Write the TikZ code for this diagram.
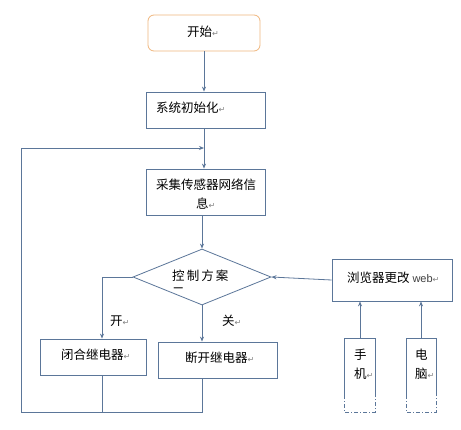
\documentclass[tikz,border=0pt]{standalone}
\usepackage{fontspec}
\newfontfamily\cjk{Noto Sans CJK SC}
\newfontfamily\symf{DejaVu Sans}
\usetikzlibrary{arrows.meta,shapes.geometric}
\definecolor{ln}{HTML}{5B7699}
\definecolor{og}{HTML}{F0B77E}
\newcommand{\ret}{{\symf\fontsize{8}{8}\selectfont\color{gray}↵}}
\tikzset{
  x=1pt,y=-1pt,
  box/.style={draw=ln,line width=0.8pt,fill=white,inner sep=0pt},
  conn/.style={draw=ln,line width=0.8pt},
  arr/.style={conn,-{Stealth[length=5pt,width=4pt]}},
  txt/.style={font=\cjk\fontsize{12.5}{18}\selectfont,inner sep=0pt,anchor=west},
}
\begin{document}
\begin{tikzpicture}
\useasboundingbox[fill=white] (0,0) rectangle (461,429);
% nodes
\node[box,draw=og,rounded corners=6pt,minimum width=112pt,minimum height=36pt] (start) at (204,33) {};
\node[txt] (startt) at (187,32) {开始\ret};
\node[box,minimum width=119pt,minimum height=36pt] (init) at (205.5,110) {};
\node[txt] (initt) at (156,108) {系统初始化\ret};
\node[box,minimum width=119pt,minimum height=46pt] (coll) at (205.5,192) {};
\node[txt] (collt1) at (156,185) {采集传感器网络信};
\node[txt] (collt2) at (196,204) {息\ret};
\node[box,diamond,aspect=2.45,minimum width=138pt,minimum height=56pt] (dec) at (202,277) {};
\node[txt] (dect1) at (172,276) {控\,制\,方\,案};
\begin{scope}
\clip (160,283) rectangle (200,292.5);
\node[txt] (dect2) at (172,292) {二};
\end{scope}
\node[box,minimum width=106pt,minimum height=36pt] (close) at (93,357) {};
\node[txt] (closet) at (61,355) {闭合继电器\ret};
\node[box,minimum width=119pt,minimum height=36pt] (open) at (217.5,360) {};
\node[txt] (opent) at (185,358) {断开继电器\ret};
\node[box,minimum width=120pt,minimum height=42pt] (web) at (392,280) {};
\node[txt] (webt) at (347,278) {浏览器更改 {\fontspec{Liberation Sans}\fontsize{11}{11}\selectfont\color{black!75}web}\ret};
\node[txt] (kai) at (110,321) {开\ret};
\node[txt] (guan) at (222,321) {关\ret};
% phone / pc boxes
\coordinate (ph) at (360,338);
\coordinate (pc) at (421,338);
\draw[conn] (344,395) -- (344,338) -- (375,338) -- (375,395);
\draw[conn,dash pattern=on 4pt off 2pt on 1pt off 2pt] (344,395) -- (344,412) -- (375,412) -- (375,395);
\draw[conn] (406,395) -- (406,338) -- (436,338) -- (436,395);
\draw[conn,dash pattern=on 4pt off 2pt on 1pt off 2pt] (406,395) -- (406,412) -- (436,412) -- (436,395);
\node[txt] (pht1) at (354,355) {手};
\node[txt] (pht2) at (354,374) {机\ret};
\node[txt] (pct1) at (415,355) {电};
\node[txt] (pct2) at (415,374) {脑\ret};
% connectors
\draw[arr] (start.south) -- (start.south |- init.north);
\draw[arr] (init.south -| start.south) -- (coll.north -| start.south);
\coordinate (lb) at (21,412);
\coordinate (lt) at (21,148);
\coordinate (lm) at (204,148);
\draw[arr] (lb) -- (lt) -- (lm);
\draw[arr] (coll.south -| dec.north) -- (dec.north);
\coordinate (lc) at (102,277);
\draw[arr] (dec.west) -- (lc) -- (close.north -| lc);
\draw[arr] (dec.south) -- (open.north -| dec.south);
\coordinate (cb) at (102,412);
\coordinate (ob) at (202,412);
\draw[conn] (close.south -| cb) -- (cb);
\draw[conn] (open.south -| ob) -- (ob) -- (lb);
\draw[arr] (web.west) -- (dec.east);
\draw[arr] (ph) -- (ph |- web.south);
\draw[arr] (pc) -- (pc |- web.south);
\end{tikzpicture}
\end{document}
